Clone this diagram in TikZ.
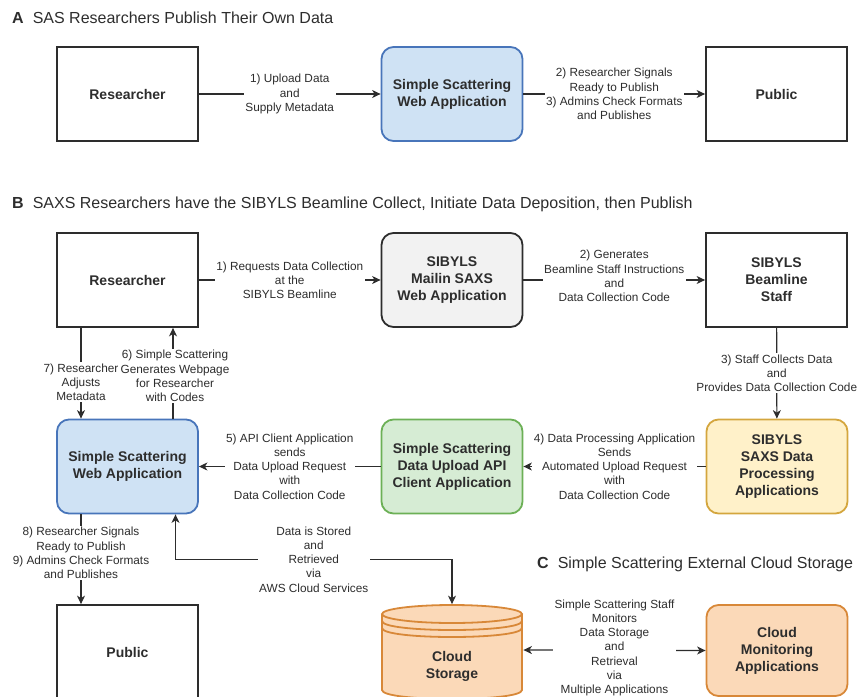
\documentclass[tikz,border=0pt]{standalone}
\usepackage{fontspec}
\setmainfont{Liberation Sans}
\usetikzlibrary{arrows.meta}
\definecolor{cInk}{RGB}{45,45,45}
\definecolor{cBlueFill}{RGB}{207,226,244}
\definecolor{cBlueEdge}{RGB}{72,117,186}
\definecolor{cGreyFill}{RGB}{242,242,242}
\definecolor{cGreenFill}{RGB}{214,236,212}
\definecolor{cGreenEdge}{RGB}{108,176,86}
\definecolor{cYellowFill}{RGB}{255,241,201}
\definecolor{cYellowEdge}{RGB}{212,166,62}
\definecolor{cOrangeFill}{RGB}{251,217,184}
\definecolor{cOrangeEdge}{RGB}{216,136,56}
\tikzset{
	plainbox/.style ={rectangle, draw=cInk, line width=1.8pt, minimum width=141pt, minimum height=94pt, align=center, text=cInk, font=\fontsize{14}{17}\selectfont\bfseries},
	roundbox/.style ={plainbox, rounded corners=12pt},
	webapp/.style   ={roundbox, draw=cBlueEdge, fill=cBlueFill},
	mailin/.style   ={roundbox, fill=cGreyFill},
	apiclient/.style={roundbox, draw=cGreenEdge, fill=cGreenFill},
	procapp/.style  ={roundbox, draw=cYellowEdge, fill=cYellowFill},
	monapp/.style   ={roundbox, draw=cOrangeEdge, fill=cOrangeFill, minimum height=91pt},
	flowarrow/.style={-{Stealth[length=8.5pt, width=8pt, inset=2.5pt]}, line width=1.2pt, draw=cInk},
	twoway/.style   ={{Stealth[length=8.5pt, width=8pt, inset=2.5pt]}-{Stealth[length=8.5pt, width=8pt, inset=2.5pt]}, line width=1.2pt, draw=cInk},
	steplabel/.style={fill=white, align=center, inner sep=1.5pt, text=cInk, font=\fontsize{11.8}{14.2}\selectfont},
	paneltitle/.style={anchor=west, inner sep=0pt, text=cInk, font=\fontsize{16}{19}\selectfont},
}

\begin{document}
\begin{tikzpicture}[x=1pt, y=-1pt]
	\useasboundingbox (0,0) rectangle (859,696);
	% panel A
	\node[paneltitle] (titleA) at (12,18) {\textbf{A}\hspace{9pt}SAS Researchers Publish Their Own Data};
	\node[plainbox] (researcherA) at (127.5,94) {Researcher};
	\node[webapp]   (webappA)     at (452,94)   {Simple Scattering\\Web Application};
	\node[plainbox] (publicA)     at (776.5,94) {Public};
	\draw[flowarrow] (researcherA) -- (webappA) node[steplabel, midway] {1) Upload Data\\and\\Supply Metadata};
	\draw[flowarrow] (webappA) -- (publicA) node[steplabel, midway] {2) Researcher Signals\\Ready to Publish\\3) Admins Check Formats\\and Publishes};

	% panel B
	\node[paneltitle] (titleB) at (12,204) {\textbf{B}\hspace{9pt}SAXS Researchers have the SIBYLS Beamline Collect, Initiate Data Deposition, then Publish};
	\node[plainbox]  (researcherB) at (127.5,280)   {Researcher};
	\node[mailin]    (mailin)      at (452,280)     {SIBYLS\\Mailin SAXS\\Web Application};
	\node[plainbox]  (staff)       at (776.5,280)   {SIBYLS\\Beamline\\Staff};
	\node[webapp]    (webappB)     at (127.5,466.5) {Simple Scattering\\Web Application};
	\node[apiclient] (apiclient)   at (452,466.5)   {Simple Scattering\\Data Upload API\\Client Application};
	\node[procapp]   (procapp)     at (777,466.5)   {SIBYLS\\SAXS Data\\Processing\\Applications};
	\node[plainbox]  (publicB)     at (127.5,652)   {Public};
	\draw[flowarrow] (researcherB) -- (mailin) node[steplabel, midway] {1) Requests Data Collection\\at the\\SIBYLS Beamline};
	\draw[flowarrow] (mailin) -- (staff) node[steplabel, midway, yshift=4pt] {2) Generates\\Beamline Staff Instructions\\and\\Data Collection Code};
	\draw[flowarrow] (staff) -- (procapp) node[steplabel, midway] {3) Staff Collects Data\\and\\Provides Data Collection Code};
	\draw[flowarrow] (procapp) -- (apiclient) node[steplabel, midway] {4) Data Processing Application\\Sends\\Automated Upload Request\\with\\Data Collection Code};
	\draw[flowarrow] (apiclient) -- (webappB) node[steplabel, midway] {5) API Client Application\\sends\\Data Upload Request\\with\\Data Collection Code};
	\draw[flowarrow] ([xshift=-46.5pt]researcherB.south) -- ([xshift=-46.5pt]webappB.north) node[steplabel, pos=0.6, inner xsep=0.5pt] {7) Researcher\\Adjusts\\Metadata};
	\draw[flowarrow] ([xshift=45.5pt]webappB.north) -- ([xshift=45.5pt]researcherB.south) node[steplabel, pos=0.47, xshift=2pt, inner xsep=0.5pt] {6) Simple Scattering\\Generates Webpage\\for Researcher\\with Codes};
	\draw[flowarrow] ([xshift=-46.5pt]webappB.south) -- ([xshift=-46.5pt]publicB.north) node[steplabel, pos=0.43] {8) Researcher Signals\\Ready to Publish\\9) Admins Check Formats\\and Publishes};

	% panel C
	\node[paneltitle] (titleC) at (537,564) {\textbf{C}\hspace{9pt}Simple Scattering External Cloud Storage};
	\draw[cOrangeEdge, line width=1.8pt, fill=cOrangeFill] (382,614) -- (382,690) .. controls (382,702) and (522,702) .. (522,690) -- (522,614);
	\draw[cOrangeEdge, line width=1.8pt, fill=cOrangeFill] (452,614) ellipse [x radius=70, y radius=9];
	\draw[cOrangeEdge, line width=1.8pt] (382,621) .. controls (382,633) and (522,633) .. (522,621);
	\draw[cOrangeEdge, line width=1.8pt] (382,628) .. controls (382,640) and (522,640) .. (522,628);
	\node[plainbox, draw=none, minimum height=122pt] (cloudstore) at (452,666) {Cloud\\Storage};
	\node[monapp] (cloudmon) at (777,650.5) {Cloud\\Monitoring\\Applications};
	\draw[twoway] ([xshift=48pt]webappB.south) -- ++(0,45) -| (cloudstore.north) node[steplabel, pos=0.25] {Data is Stored\\and\\Retrieved\\via\\AWS Cloud Services};
	\draw[twoway] ([yshift=16pt]cloudstore.east) -- (cloudmon.west) node[steplabel, midway, yshift=2.5pt] {Simple Scattering Staff\\Monitors\\Data Storage\\and\\Retrieval\\via\\Multiple Applications};
\end{tikzpicture}
\end{document}
